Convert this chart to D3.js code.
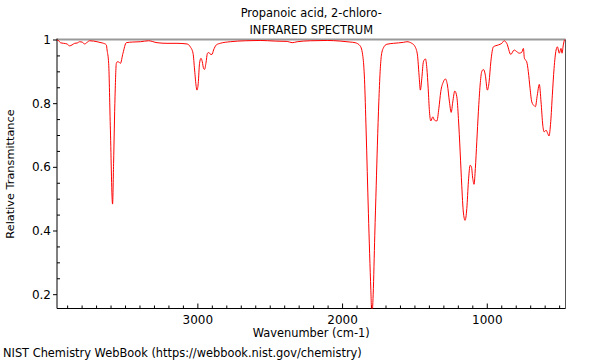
<!DOCTYPE html>
<html><head><meta charset="utf-8">
<script src="https://cdn.jsdelivr.net/npm/d3@7"></script>
<style>body{margin:0;background:#fff}svg{display:block}text{font-family:"DejaVu Sans",sans-serif;fill:#000}</style>
</head><body><svg id="c" width="600" height="360"></svg>
<script>
const titleLines = ["Propanoic acid, 2-chloro-", "INFRARED SPECTRUM"];
const xLabel = "Wavenumber (cm-1)";
const yLabel = "Relative Transmittance";
const footer = "NIST Chemistry WebBook (https://webbook.nist.gov/chemistry)";
const xDomain = [3970, 456];
const yDomain = [0.155, 1.0];
const xMajorTicks = [3000, 2000, 1000];
const yMajorTicks = [0.2, 0.4, 0.6, 0.8, 1];
const yTickLabels = ["0.2", "0.4", "0.6", "0.8", "1"];

const wavenumber = [3970,3963,3947,3924,3901,3883,3866,3848,3830,3814,3797,3779,3762,3745,3717,3693,3666,3648,3629,3624,3613,3601,3586,3579,3569,3560,3553,3546,3532,3514,3491,3450,3394,3337,3279,3210,3141,3072,3049,3030,3019,3008,3003,2994,2985,2975,2966,2957,2950,2941,2930,2920,2911,2899,2888,2869,2842,2773,2669,2566,2462,2379,2345,2310,2220,2103,2013,1944,1910,1875,1856,1845,1834,1818,1801,1794,1785,1774,1764,1756,1746,1737,1728,1714,1691,1645,1576,1552,1518,1495,1479,1468,1459,1449,1438,1424,1414,1405,1396,1387,1373,1362,1345,1331,1318,1300,1286,1272,1258,1246,1235,1221,1207,1196,1184,1173,1162,1150,1138,1127,1115,1106,1097,1088,1079,1069,1058,1046,1035,1023,1010,996,984,972,954,920,896,880,862,834,811,793,775,758,747,740,724,713,701,689,673,664,651,637,625,613,604,590,579,570,558,547,535,521,512,499,487,480,471,461,456];
const transmittance = [0.998,0.998,0.99,0.988,0.986,0.98,0.983,0.988,0.989,0.993,0.992,0.986,0.991,0.996,0.995,0.993,0.99,0.988,0.983,0.967,0.925,0.716,0.483,0.61,0.82,0.925,0.93,0.93,0.925,0.957,0.99,0.992,0.993,0.996,0.99,0.988,0.988,0.986,0.977,0.957,0.904,0.852,0.841,0.862,0.925,0.941,0.93,0.909,0.906,0.925,0.957,0.959,0.954,0.953,0.967,0.983,0.988,0.993,0.996,0.997,0.995,0.994,0.99,0.993,0.996,0.997,0.995,0.992,0.99,0.98,0.946,0.875,0.716,0.454,0.212,0.13,0.2,0.385,0.542,0.668,0.804,0.899,0.951,0.974,0.985,0.988,0.991,0.993,0.988,0.977,0.951,0.888,0.841,0.878,0.93,0.939,0.909,0.847,0.773,0.744,0.757,0.747,0.744,0.784,0.836,0.867,0.876,0.857,0.804,0.771,0.804,0.838,0.82,0.752,0.647,0.542,0.458,0.432,0.469,0.553,0.605,0.6,0.564,0.545,0.595,0.679,0.773,0.857,0.899,0.906,0.888,0.841,0.867,0.93,0.977,0.983,0.988,0.996,0.988,0.953,0.967,0.962,0.957,0.96,0.972,0.941,0.93,0.899,0.847,0.804,0.792,0.789,0.825,0.859,0.804,0.731,0.71,0.715,0.705,0.697,0.742,0.825,0.909,0.967,0.977,0.957,0.972,0.957,0.983,1.0,0.998];

const svg = d3.select("#c");
const L = 57, R = 565.5, T = 39.5, B = 308.5;
const x = d3.scaleLinear().domain(xDomain).range([L, R]);
const y = d3.scaleLinear().domain(yDomain).range([B, T]);

svg.append("rect").attr("width",600).attr("height",360).attr("fill","#fff");

// title
titleLines.forEach((t,i)=>svg.append("text").attr("x",(L+R)/2).attr("y",17+i*17)
  .attr("text-anchor","middle").attr("font-size",11.4).text(t));

// clip
svg.append("clipPath").attr("id","clip").append("rect")
  .attr("x",L).attr("y",T).attr("width",R-L).attr("height",B-T);

// minor ticks
const xMinor = d3.range(3900, 400, -100).filter(v=>v<=xDomain[0]&&v>=xDomain[1]&&!xMajorTicks.includes(v));
const yMinor = d3.range(0.2, 1.0001, 0.05).filter(v=>yMajorTicks.every(m=>Math.abs(m-v)>1e-6));

const gx = svg.append("g").attr("transform",`translate(0,${B})`);
gx.call(d3.axisBottom(x).tickValues(xMajorTicks).tickSizeInner(-5).tickSizeOuter(0).tickPadding(7).tickFormat(d3.format("d")));
gx.append("g").call(d3.axisBottom(x).tickValues(xMinor).tickSizeInner(-3).tickSizeOuter(0).tickFormat(""));
gx.selectAll(".domain").remove();
gx.selectAll("text").attr("font-size",12).attr("font-family","DejaVu Sans").attr("fill","#000");
gx.selectAll("line").attr("stroke","#000");

const gy = svg.append("g").attr("transform",`translate(${L},0)`);
gy.call(d3.axisLeft(y).tickValues(yMajorTicks).tickSizeInner(4).tickSizeOuter(0).tickPadding(2)
  .tickFormat((d,i)=>yTickLabels[i]));
gy.append("g").call(d3.axisLeft(y).tickValues(yMinor).tickSizeInner(-3).tickSizeOuter(0).tickFormat(""));
gy.selectAll(".domain").remove();
gy.selectAll("text").attr("font-size",12).attr("font-family","DejaVu Sans").attr("fill","#000");
gy.selectAll("line").attr("stroke","#000");

// frame
svg.append("line").attr("x1",L).attr("x2",R).attr("y1",T).attr("y2",T).attr("stroke","#999").attr("stroke-width",2);
svg.append("line").attr("x1",R).attr("x2",R).attr("y1",T).attr("y2",B).attr("stroke","#555").attr("stroke-width",1);
svg.append("line").attr("x1",L).attr("x2",L).attr("y1",T-1).attr("y2",B).attr("stroke","#000").attr("stroke-width",1);
svg.append("line").attr("x1",L).attr("x2",R).attr("y1",B).attr("y2",B).attr("stroke","#000").attr("stroke-width",1);

// spectrum
const data = wavenumber.map((w,i)=>({w, t: transmittance[i]}));
svg.append("path").datum(data).attr("clip-path","url(#clip)")
  .attr("fill","none").attr("stroke","#ff0000").attr("stroke-width",1)
  .attr("d", d3.line().x(d=>x(d.w)).y(d=>y(d.t)).curve(d3.curveMonotoneX));

// labels
svg.append("text").attr("x",(L+R)/2).attr("y",337).attr("text-anchor","middle").attr("font-size",11.4).text(xLabel);
svg.append("text").attr("transform",`translate(14,${(T+B)/2}) rotate(-90)`).attr("text-anchor","middle").attr("font-size",11.3).text(yLabel);
svg.append("text").attr("x",3).attr("y",357).attr("font-size",11.4).text(footer);
</script></body></html>
